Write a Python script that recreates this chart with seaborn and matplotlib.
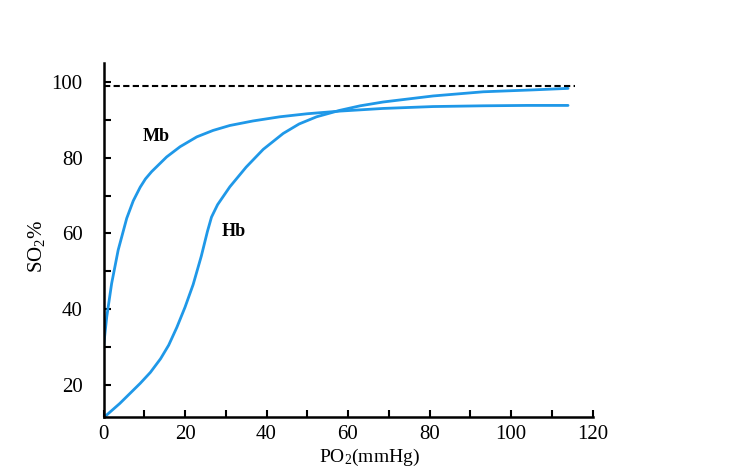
import numpy as np
import pandas as pd
import matplotlib
matplotlib.use("Agg")
import matplotlib.pyplot as plt
import seaborn as sns

# Data
mb_po2 = [0, 0.3, 0.8, 2.0, 3.6, 5.7, 7.3, 9.0, 10.3, 11.8, 15.5, 18.8, 22.9, 26.9, 31.0, 36.7,
          43.3, 50.0, 58.0, 68.6, 80.9, 93.2, 104.0, 114.0]
mb_so2 = [30.0, 33.0, 38.0, 46.8, 55.6, 64.0, 68.6, 72.2, 74.4, 76.3, 80.2, 82.9, 85.5, 87.2,
          88.5, 89.7, 90.8, 91.6, 92.3, 93.0, 93.5, 93.7, 93.8, 93.8]
hb_po2 = [0.3, 4.0, 9.0, 11.5, 14.0, 16.0, 18.0, 20.0, 22.0, 24.0, 25.5, 26.5, 28.0, 31.0,
          35.0, 39.2, 44.1, 48.0, 52.3, 58.0, 63.0, 68.6, 80.9, 93.2, 105.4, 114.0]
hb_so2 = [11.6, 15.1, 20.4, 23.3, 26.9, 30.5, 35.2, 40.5, 46.5, 54.0, 60.5, 64.3, 67.6, 72.3,
          77.5, 82.2, 86.4, 88.9, 90.8, 92.5, 93.7, 94.7, 96.3, 97.4, 97.9, 98.3]
ref_po2 = [0, 115.6]
ref_so2 = [98.9, 98.9]
x_ticks = list(range(0, 121, 10))
x_labels = [str(v) if v % 20 == 0 else "" for v in x_ticks]
y_ticks = list(range(20, 101, 10))
y_labels = [str(v) if v % 20 == 0 else "" for v in y_ticks]

sns.set_style("ticks")
plt.rcParams["font.family"] = ["Liberation Serif", "DejaVu Serif"]
plt.rcParams["mathtext.fontset"] = "custom"
plt.rcParams["mathtext.rm"] = "Liberation Serif"
plt.rcParams["mathtext.it"] = "Liberation Serif:italic"
plt.rcParams["text.color"] = "black"
plt.rcParams["axes.labelcolor"] = "black"

fig = plt.figure(figsize=(7.5, 4.73), dpi=100)
ax = fig.add_axes([0.138, 0.119, 0.652, 0.747])

blue = "#1f98e8"
df_mb = pd.DataFrame({"x": mb_po2, "y": mb_so2})
df_hb = pd.DataFrame({"x": hb_po2, "y": hb_so2})
df_ref = pd.DataFrame({"x": ref_po2, "y": ref_so2})
sns.lineplot(data=df_mb, x="x", y="y", ax=ax, color=blue, lw=2.0, sort=False)
sns.lineplot(data=df_hb, x="x", y="y", ax=ax, color=blue, lw=2.0, sort=False)
sns.lineplot(data=df_ref, x="x", y="y", ax=ax, color="black", lw=1.5,
             linestyle=(0, (3, 1.6)), sort=False)

ax.set_xlim(0, 120)
ax.set_ylim(11.6, 104.9)
ax.set_xticks(x_ticks)
ax.set_xticklabels(x_labels)
ax.set_yticks(y_ticks)
ax.set_yticklabels(y_labels)
ax.tick_params(axis="both", direction="in", length=5, width=1.5, labelsize=15,
               colors="black")
ax.tick_params(axis="x", pad=6)
ax.tick_params(axis="y", pad=15)
for s in ["top", "right"]:
    ax.spines[s].set_visible(False)
for s in ["left", "bottom"]:
    ax.spines[s].set_linewidth(1.8)
    ax.spines[s].set_color("black")

ax.set_xlabel("PO$_2$(mmHg)", fontsize=14)
ax.set_ylabel("SO$_2$%", fontsize=15)
ax.xaxis.set_label_coords(0.543, -0.085)
ax.yaxis.set_label_coords(-0.115, 0.483)

ax.text(13.0, 85.5, "Mb", fontsize=13, fontweight="bold", ha="center", va="center")
ax.text(32.0, 60.5, "Hb", fontsize=13, fontweight="bold", ha="center", va="center")

fig.savefig("out.png", dpi=100)
